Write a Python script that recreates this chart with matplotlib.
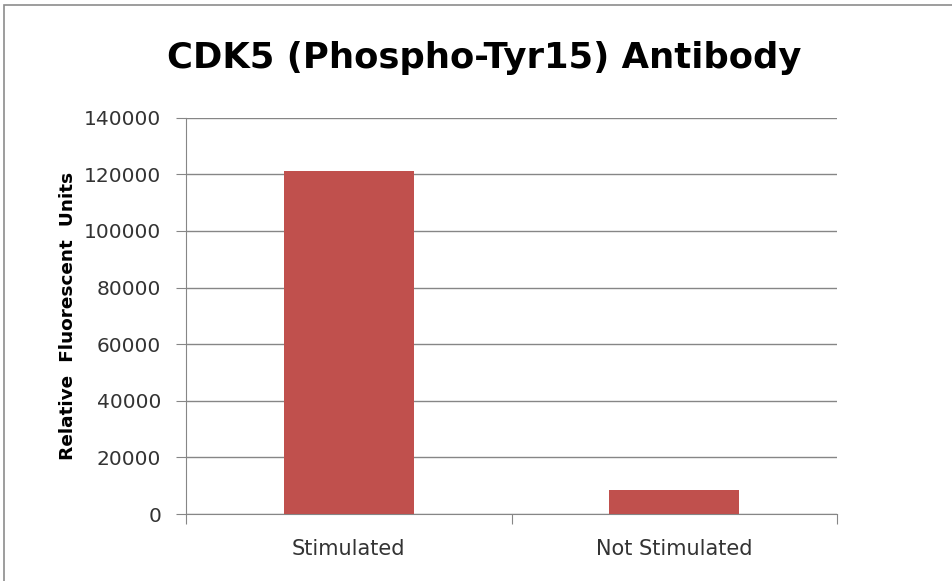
import matplotlib.pyplot as plt
from matplotlib.patches import Rectangle

categories = ["Stimulated", "Not Stimulated"]
values = [121000, 8500]
y_ticks = [0, 20000, 40000, 60000, 80000, 100000, 120000, 140000]

plt.rcParams['font.family'] = ['DejaVu Sans']

fig = plt.figure(figsize=(9.53, 5.81), dpi=100)
# grey frame, only top and left edges show (picture is cropped)
fig.patches.append(Rectangle((0.0042, -0.1), 1.2, 1.0914, transform=fig.transFigure,
                             fill=False, edgecolor="#8c8c8c", linewidth=1.2))

ax = fig.add_axes([0.1952, 0.1153, 0.6831, 0.6821])
x = range(len(categories))
ax.bar(x, values, width=0.4, color="#C0504D", zorder=3)

ax.set_xlim(-0.5, 1.5)
ax.set_ylim(0, 140000)
ax.set_yticks(y_ticks)
ax.set_yticklabels([str(v) for v in y_ticks], fontsize=14.5, color="#333333")
ax.set_xticks([-0.5, 0.5, 1.5], minor=False)
ax.set_xticklabels([])
ax.set_xticks(list(x), minor=True)
ax.set_xticklabels(categories, minor=True, fontsize=15, color="#333333")
ax.tick_params(axis='x', which='minor', length=0, pad=18)
ax.tick_params(axis='x', which='major', direction='out', length=7, color="#868686")
ax.tick_params(axis='y', direction='out', length=7, color="#868686", pad=11)

ax.yaxis.grid(True, color="#868686", linewidth=1)
ax.set_axisbelow(True)
for side in ["top", "right"]:
    ax.spines[side].set_visible(False)
ax.spines["left"].set_color("#868686")
ax.spines["bottom"].set_color("#868686")

ax.set_ylabel("Relative  Fluorescent  Units", fontsize=13.3, fontweight="bold", labelpad=5)
fig.text(0.508, 0.883, "CDK5 (Phospho-Tyr15) Antibody", ha="center", va="baseline",
         fontsize=25.5, fontweight="bold")

fig.savefig("out.png", dpi=100)
